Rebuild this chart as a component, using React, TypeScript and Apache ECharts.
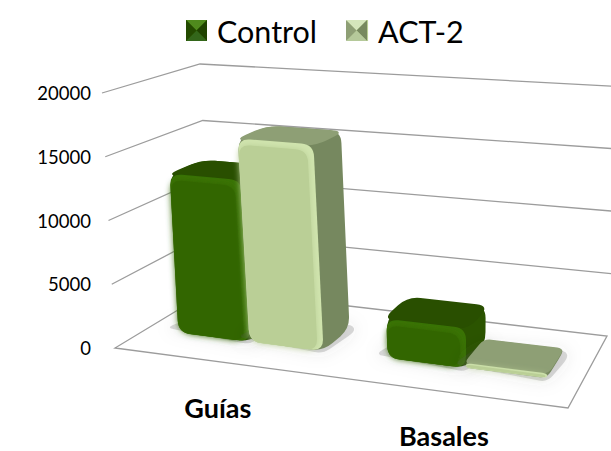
import React, { useEffect, useRef } from "react";
import * as echarts from "echarts";

const categories = ["Guías", "Basales"];
const seriesNames = ["Control", "ACT-2"];
const controlValues = [12700, 3000];
const act2Values = [16000, 350];
const yTicks = [0, 5000, 10000, 15000, 20000];
const labelOffsets = [46, 43.5];

type P = [number, number];

// perspective of the plot box
const floorQuad: P[] = [[115, 348], [568, 408], [607, 336], [211, 290]];
const topQuad: P[] = [[102, 93], [588, 128], [627, 87], [200, 64]];

function homography(q: P[]) {
  const [[x0, y0], [x1, y1], [x2, y2], [x3, y3]] = q;
  const dx1 = x1 - x2, dx2 = x3 - x2, sx = x0 - x1 + x2 - x3;
  const dy1 = y1 - y2, dy2 = y3 - y2, sy = y0 - y1 + y2 - y3;
  const den = dx1 * dy2 - dx2 * dy1;
  const g = (sx * dy2 - dx2 * sy) / den;
  const h = (dx1 * sy - sx * dy1) / den;
  const a = x1 - x0 + g * x1, b = x3 - x0 + h * x3, c = x0;
  const d = y1 - y0 + g * y1, e = y3 - y0 + h * y3, f = y0;
  return (u: number, v: number): P => {
    const k = g * u + h * v + 1;
    return [(a * u + b * v + c) / k, (d * u + e * v + f) / k];
  };
}
const floorH = homography(floorQuad);
const topH = homography(topQuad);
function project(u: number, w: number, t: number): P {
  const a = floorH(u, w), b = topH(u, w);
  return [a[0] + (b[0] - a[0]) * t, a[1] + (b[1] - a[1]) * t];
}

function roundedPath(pts: P[], radius: number): string {
  const n = pts.length;
  let d = "";
  for (let i = 0; i < n; i++) {
    const p = pts[i], prev = pts[(i + n - 1) % n], next = pts[(i + 1) % n];
    const lp = Math.hypot(prev[0] - p[0], prev[1] - p[1]) || 1;
    const ln = Math.hypot(next[0] - p[0], next[1] - p[1]) || 1;
    const r1 = Math.min(radius, lp / 2), r2 = Math.min(radius, ln / 2);
    const a: P = [p[0] + ((prev[0] - p[0]) / lp) * r1, p[1] + ((prev[1] - p[1]) / lp) * r1];
    const b: P = [p[0] + ((next[0] - p[0]) / ln) * r2, p[1] + ((next[1] - p[1]) / ln) * r2];
    d += `${i === 0 ? "M" : "L"}${a[0].toFixed(2)} ${a[1].toFixed(2)}Q${p[0].toFixed(2)} ${p[1].toFixed(2)} ${b[0].toFixed(2)} ${b[1].toFixed(2)}`;
  }
  return d + "Z";
}
function bbox(d: string) {
  const nums = d.match(/-?\d+(\.\d+)?/g)!.map(Number);
  let a = Infinity, b = Infinity, e = -Infinity, f = -Infinity;
  for (let i = 0; i < nums.length; i += 2) {
    a = Math.min(a, nums[i]); e = Math.max(e, nums[i]);
    b = Math.min(b, nums[i + 1]); f = Math.max(f, nums[i + 1]);
  }
  return [a, b, e, f];
}

const GRID_LEFT = 102, GRID_TOP = 93, GRID_W = 466, GRID_H = 255;
const W_FRONT = 0.32, W_BACK = 0.67, BAR_BAND = 0.35, CENTER_SHIFT = 0.001;

const palette = [
  { front: "#336600", rim: "#3a7304", top: "#294f00", side: "#2b5400" },
  { front: "#bacf96", rim: "#d0e4ae", top: "#8e9f75", side: "#76885f" },
];

function raw(d: string, style: any) {
  const bb = bbox(d);
  return { type: "path", shape: { pathData: d, x: bb[0], y: bb[1], width: bb[2] - bb[0], height: bb[3] - bb[1] }, style };
}

function barRenderer(seriesIdx: number) {
  return (_: any, api: any) => {
    const cat = api.value(0) as number, val = api.value(1) as number;
    const band = api.size([1, 0])[0] as number;
    const cx = api.coord([cat, 0])[0] as number;
    const uC = (cx - GRID_LEFT) / GRID_W + CENTER_SHIFT;
    const bw = (band / GRID_W) * BAR_BAND;
    const u0 = uC + (seriesIdx - 1) * bw, u1 = u0 + bw;
    const y0 = api.coord([0, 0])[1], yv = api.coord([0, val])[1], y1 = api.coord([0, 20000])[1];
    const t = (y0 - yv) / (y0 - y1);
    const c = palette[seriesIdx];
    const fb0 = project(u0, W_FRONT, 0), fb1 = project(u1, W_FRONT, 0);
    const ft0 = project(u0, W_FRONT, t), ft1 = project(u1, W_FRONT, t);
    const bt0 = project(u0, W_BACK, t), bt1 = project(u1, W_BACK, t), bb1 = project(u1, W_BACK, 0);
    const hgt = Math.abs(fb0[1] - ft0[1]);
    const r = Math.min(12, hgt * 0.45 + 3);
    const rTop = Math.max(r, 7);
    const frontPts = [ft0, ft1, fb1, fb0];
    const hull = [ft0, bt0, bt1, bb1, fb1, fb0];
    const dTop = Math.min(6, hgt / 3), dRight = Math.min(6, hgt / 3), dLeft = Math.min(0.5, hgt / 4), dBot = Math.min(0.5, hgt / 4);
    const inner: P[] = [
      [ft0[0] + dLeft, ft0[1] + dTop], [ft1[0] - dRight, ft1[1] + dTop],
      [fb1[0] - dRight, fb1[1] - dBot], [fb0[0] + dLeft, fb0[1] - dBot],
    ];
    const shadowPts: P[] = [
      [fb0[0] - 9, fb0[1] - 4], [fb1[0], fb1[1] + 3], [bb1[0] + 5, bb1[1] + 4],
      project(u1, W_BACK + 0.04, 0), project(u0, W_BACK, 0),
    ];
    return {
      type: "group",
      children: [
        raw(roundedPath(shadowPts, 8), { fill: "rgba(80,80,80,0.22)", shadowBlur: 16, shadowColor: "rgba(80,80,80,0.5)" }),
        raw(roundedPath(hull, rTop), { fill: c.side }),
        raw(roundedPath([ft0, bt0, bt1, ft1], rTop), { fill: c.top }),
        raw(roundedPath(frontPts, r), { fill: c.rim }),
        raw(roundedPath(inner, r), { fill: c.front, shadowBlur: 6, shadowColor: c.front }),
      ],
    };
  };
}

function legendMark(x: number, y: number, s: number, col: string[]) {
  const c: P = [x + s / 2, y + s / 2];
  const a: P = [x, y], b: P = [x + s, y], e: P = [x + s, y + s], f: P = [x, y + s];
  return [[a, b, c], [b, e, c], [e, f, c], [f, a, c]].map((pts, i) => ({
    type: "polygon", shape: { points: pts }, style: { fill: col[i] }, silent: true, z: 100,
  }));
}

export default function App() {
  const ref = useRef<HTMLDivElement>(null);
  useEffect(() => {
    document.body.style.margin = "0";
    const chart = echarts.init(ref.current!, undefined, { renderer: "svg" });
    chart.setOption({
      animation: false,
      backgroundColor: "#ffffff",
      textStyle: { fontFamily: "Lato" },
      legend: {
        left: 181, top: 10, itemWidth: 21, itemHeight: 21, itemGap: 30,
        padding: 5,
        icon: "rect",
        data: seriesNames,
        textStyle: { fontSize: 30.5, color: "#000", fontFamily: "Lato", padding: [0, 0, 0, 5] },
      },
      grid: { left: GRID_LEFT, top: GRID_TOP, width: GRID_W, height: GRID_H },
      xAxis: { type: "category", data: categories, show: false },
      yAxis: {
        type: "value", min: 0, max: 20000, interval: 5000,
        axisLine: { show: false }, axisTick: { show: false }, splitLine: { show: false },
        axisLabel: { fontSize: 18.5, color: "#000", margin: 11, fontFamily: "Lato", formatter: (v: number) => String(v) },
      },
      graphic: [
        ...legendMark(186, 20, 21, ["#4f8a1d", "#1f4200", "#33661a", "#234a00"]),
        ...legendMark(346, 20, 21, ["#d5e6bb", "#77895e", "#b5c99a", "#8e9f75"]),
      ],
      series: [
        {
          type: "custom", name: "walls", silent: true, z: 1, coordinateSystem: "cartesian2d",
          data: yTicks.map((v) => [0, v]),
          renderItem: (_: any, api: any) => {
            const v = api.value(1) as number;
            const y0 = api.coord([0, 0])[1], yv = api.coord([0, v])[1], y1 = api.coord([0, 20000])[1];
            const t = (y0 - yv) / (y0 - y1);
            const pts = v === 0
              ? [project(0, 1, 0), project(0, 0, 0), project(1, 0, 0), project(1, 1, 0), project(0, 1, 0)]
              : [project(0, 0, t), project(0, 1, t), project(1, 1, t)];
            return { type: "polyline", shape: { points: pts }, style: { stroke: "#9c9c9c", lineWidth: 1.3, fill: "none" } };
          },
        },
        ...[controlValues, act2Values].map((vals, i) => ({
          type: "custom", name: seriesNames[i], z: 2 + i, coordinateSystem: "cartesian2d",
          itemStyle: { color: palette[i].front },
          data: vals.map((v, k) => [k, v]),
          renderItem: barRenderer(i),
        })),
        {
          type: "custom", name: "labels", silent: true, z: 5, coordinateSystem: "cartesian2d",
          data: categories.map((_, k) => [k, 0]),
          renderItem: (_: any, api: any) => {
            const k = api.value(0) as number;
            const cx = api.coord([k, 0])[0] as number;
            const a = project((cx - GRID_LEFT) / GRID_W, 0, 0);
            return {
              type: "text",
              style: { text: categories[k], x: a[0] - 2, y: a[1] + labelOffsets[k], align: "center", verticalAlign: "middle", fontSize: 27, fontWeight: "bold", fontFamily: "Lato", fill: "#000" },
            };
          },
        },
      ],
    });
    return () => chart.dispose();
  }, []);
  return <div ref={ref} style={{ width: 611, height: 451 }} />;
}
